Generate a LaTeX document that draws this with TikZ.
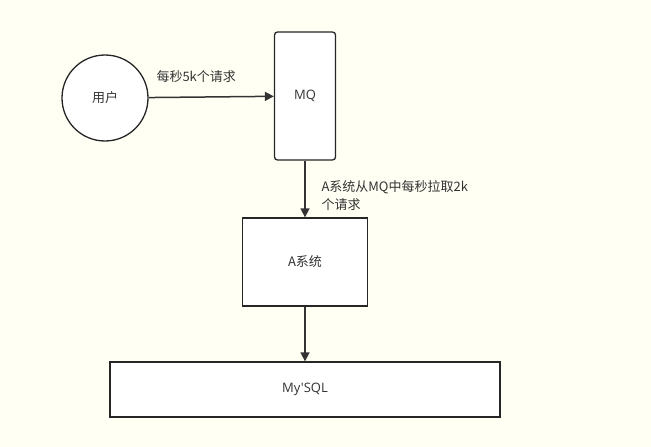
\documentclass[tikz,border=0pt]{standalone}
\usepackage{fontspec}
\setmainfont{Noto Sans CJK SC}
\newfontfamily\lat{Open Sans}
\usetikzlibrary{arrows.meta}
\definecolor{bg}{HTML}{FFFFF4}
\tikzset{box/.style={draw=black!85,line width=1.3pt,fill=white,inner sep=0pt},
 conn/.style={draw=black!80,line width=1.5pt,-{Triangle[length=9pt,width=9pt]}},
 lbl/.style={font=\fontsize{13}{18}\selectfont,text=black!80}}
\begin{document}
\begin{tikzpicture}[x=1pt,y=-1pt]
\fill[bg] (0,0) rectangle (651,447);
\useasboundingbox (0,0) rectangle (651,447);
\node[box,circle,minimum size=86pt,lbl] (u) at (105,98) {用户};
\node[box,rounded corners=3pt,minimum width=61pt,minimum height=128pt,lbl] (mq) at (305,96) {\lat MQ};
\node[box,minimum width=125pt,minimum height=88pt,lbl] (a) at (305,262) {A系统};
\node[box,minimum width=390pt,minimum height=55pt,lbl] (db) at (305,389.5) {\lat My'SQL};
\draw[conn] (u) -- (mq) node[pos=0.38,above=10pt,lbl]{每秒5k个请求};
\draw[conn] (mq) -- (a);
\node[lbl,align=left,anchor=west] (t) at (318,196) {A系统从MQ中每秒拉取2k\\个请求};
\draw[conn] (a) -- (db);
\end{tikzpicture}
\end{document}
